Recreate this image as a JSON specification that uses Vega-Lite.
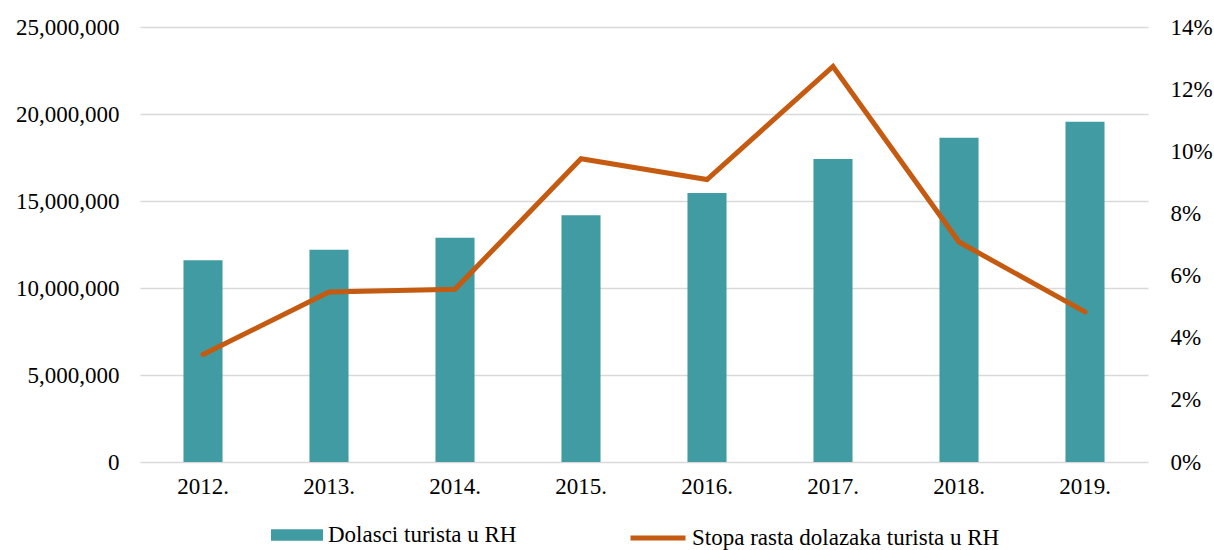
{
  "$schema": "https://vega.github.io/schema/vega-lite/v6.json",
  "width": 1008,
  "height": 435,
  "autosize": {"type": "none"},
  "padding": {"left": 140, "top": 27, "right": 66, "bottom": 88},
  "background": "white",
  "config": {
    "view": {"stroke": null},
    "font": "Liberation Serif",
    "axis": {
      "labelFont": "Liberation Serif",
      "labelFontSize": 23,
      "labelColor": "#000000",
      "domain": false,
      "ticks": false,
      "grid": false,
      "title": null
    },
    "legend": {
      "labelFont": "Liberation Serif",
      "labelFontSize": 23,
      "labelColor": "#000000",
      "labelLimit": 0,
      "title": null,
      "padding": 0,
      "orient": "none"
    }
  },
  "data": {
    "values": [
      {"year": "2012.", "arrivals": 11590000, "rate": 0.0346},
      {"year": "2013.", "arrivals": 12200000, "rate": 0.0547},
      {"year": "2014.", "arrivals": 12890000, "rate": 0.0556},
      {"year": "2015.", "arrivals": 14180000, "rate": 0.0976},
      {"year": "2016.", "arrivals": 15460000, "rate": 0.0909},
      {"year": "2017.", "arrivals": 17420000, "rate": 0.1273},
      {"year": "2018.", "arrivals": 18640000, "rate": 0.0708},
      {"year": "2019.", "arrivals": 19560000, "rate": 0.0483}
    ]
  },
  "encoding": {
    "x": {
      "field": "year",
      "type": "ordinal",
      "scale": {"paddingInner": 0, "paddingOuter": 0},
      "axis": {"labelAngle": 0, "labelPadding": 13}
    }
  },
  "layer": [
    {
      "mark": {"type": "bar", "width": {"band": 0.31}},
      "encoding": {
        "y": {
          "field": "arrivals",
          "type": "quantitative",
          "scale": {"domain": [0, 25000000], "nice": false},
          "axis": {
            "values": [0, 5000000, 10000000, 15000000, 20000000, 25000000],
            "format": ",d",
            "grid": true,
            "gridColor": "#D9D9D9",
            "gridWidth": 1.5,
            "labelPadding": 21
          }
        },
        "color": {
          "datum": "Dolasci turista u RH",
          "scale": {"domain": ["Dolasci turista u RH"], "range": ["#419BA2"]},
          "legend": {
            "legendX": 131,
            "legendY": 482,
            "symbolType": "M-1,-0.221H1V0.221H-1Z",
            "symbolSize": 2704,
            "symbolStrokeWidth": 0,
            "labelOffset": 5
          }
        }
      }
    },
    {
      "mark": {"type": "line", "strokeWidth": 5, "strokeCap": "round", "strokeJoin": "miter"},
      "encoding": {
        "y": {
          "field": "rate",
          "type": "quantitative",
          "scale": {"domain": [0, 0.14], "nice": false},
          "axis": {
            "orient": "right",
            "values": [0, 0.02, 0.04, 0.06, 0.08, 0.1, 0.12, 0.14],
            "format": ".0%",
            "labelPadding": 22
          }
        },
        "color": {
          "datum": "Stopa rasta dolazaka turista u RH",
          "scale": {"domain": ["Stopa rasta dolazaka turista u RH"], "range": ["#C55A11"]},
          "legend": {
            "legendX": 488,
            "legendY": 481,
            "symbolType": "M-1,0H1",
            "symbolSize": 3025,
            "symbolStrokeWidth": 5,
            "labelOffset": 4
          }
        }
      }
    }
  ],
  "resolve": {"scale": {"y": "independent", "color": "independent"}}
}
